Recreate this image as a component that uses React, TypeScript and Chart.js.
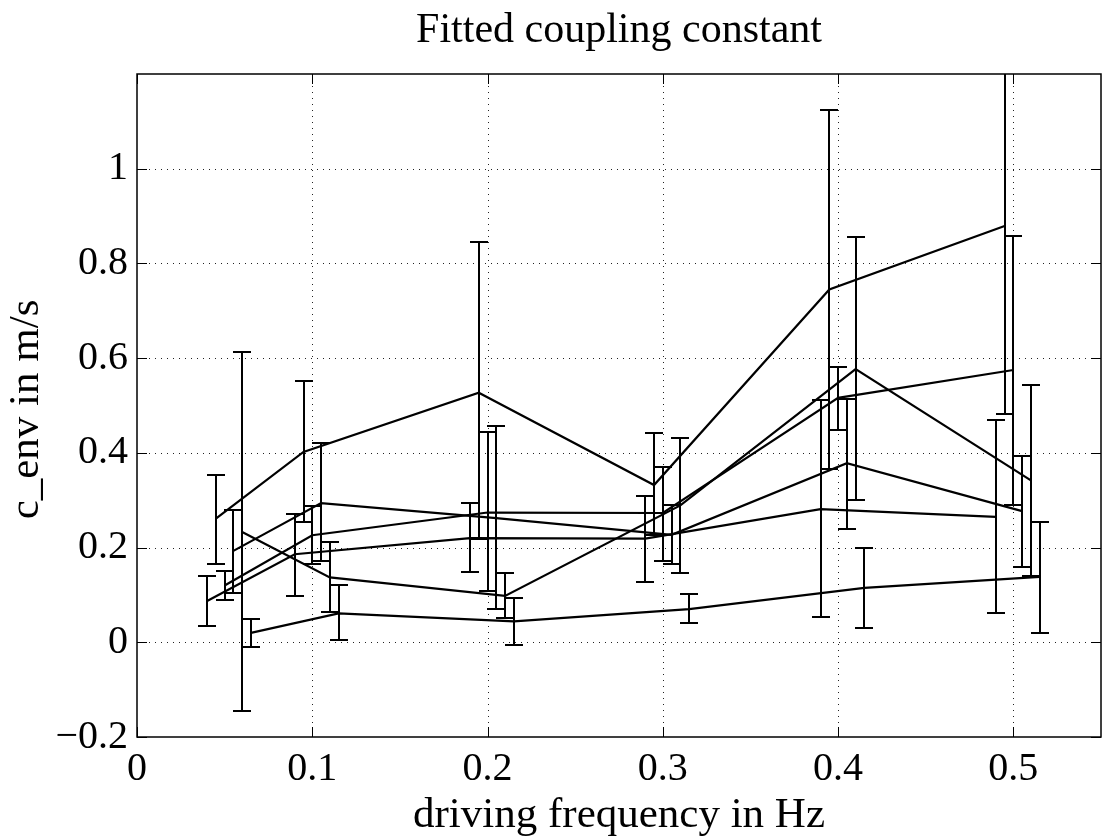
import React, { useEffect, useRef } from 'react';
import { Chart, registerables } from 'chart.js';

Chart.register(...registerables);

// ---------- text ----------
const TITLE = 'Fitted coupling constant';
const X_LABEL = 'driving frequency in Hz';
const Y_LABEL = 'c_env in m/s';

// ---------- axes ----------
const X_MIN = 0;
const X_MAX = 0.55;
const Y_MIN = -0.2;
const Y_MAX = 1.2;
const xTickValues = [0, 0.1, 0.2, 0.3, 0.4, 0.5];
const xTickLabels = ['0', '0.1', '0.2', '0.3', '0.4', '0.5'];
const yTickValues = [-0.2, 0, 0.2, 0.4, 0.6, 0.8, 1.0];
const yTickLabels = ['\u22120.2', '0', '0.2', '0.4', '0.6', '0.8', '1'];

// ---------- data (6 runs, value with lower / upper error bound) ----------
const freq1 = [0.04, 0.09, 0.19, 0.29, 0.39, 0.49];
const value1 = [0.087, 0.186, 0.220, 0.219, 0.281, 0.265];
const low1 = [0.035, 0.097, 0.149, 0.128, 0.054, 0.062];
const high1 = [0.139, 0.270, 0.295, 0.308, 0.512, 0.470];

const freq2 = [0.045, 0.095, 0.195, 0.295, 0.395, 0.495];
const value2 = [0.261, 0.402, 0.527, 0.332, 0.745, 0.879];
const low2 = [0.166, 0.253, 0.218, 0.227, 0.366, 0.483];
const high2 = [0.354, 0.551, 0.845, 0.442, 1.125, 1.275];

const freq3 = [0.05, 0.1, 0.2, 0.3, 0.4, 0.5];
const value3 = [0.120, 0.226, 0.274, 0.273, 0.516, 0.575];
const low3 = [0.089, 0.166, 0.108, 0.172, 0.449, 0.289];
const high3 = [0.150, 0.288, 0.444, 0.370, 0.581, 0.858];

const freq4 = [0.055, 0.105, 0.205, 0.305, 0.405, 0.505];
const value4 = [0.193, 0.294, 0.262, 0.227, 0.378, 0.277];
const low4 = [0.105, 0.172, 0.071, 0.165, 0.240, 0.160];
const high4 = [0.279, 0.420, 0.456, 0.290, 0.513, 0.394];

const freq5 = [0.06, 0.11, 0.21, 0.31, 0.41, 0.51];
const value5 = [0.233, 0.137, 0.098, 0.289, 0.577, 0.342];
const low5 = [-0.146, 0.063, 0.052, 0.146, 0.301, 0.139];
const high5 = [0.612, 0.211, 0.146, 0.431, 0.855, 0.544];

const freq6 = [0.065, 0.115, 0.215, 0.315, 0.415, 0.515];
const value6 = [0.020, 0.061, 0.044, 0.070, 0.115, 0.138];
const low6 = [-0.010, 0.004, -0.006, 0.041, 0.030, 0.020];
const high6 = [0.050, 0.120, 0.093, 0.101, 0.200, 0.254];

const runs = [
  { freq: freq1, value: value1, low: low1, high: high1 },
  { freq: freq2, value: value2, low: low2, high: high2 },
  { freq: freq3, value: value3, low: low3, high: high3 },
  { freq: freq4, value: value4, low: low4, high: high4 },
  { freq: freq5, value: value5, low: low5, high: high5 },
  { freq: freq6, value: value6, low: low6, high: high6 },
];

const FONT = '"Liberation Serif", "Times New Roman", serif';
const TICK_LEN = 10;
const CAP_HALF = 8;

const framePlugin = {
  id: 'matlabFrame',
  beforeDatasetsDraw(chart: any) {
    const { ctx, chartArea: a, scales } = chart;
    const xs = scales.x;
    const ys = scales.y;
    ctx.save();
    ctx.strokeStyle = '#222';
    ctx.lineWidth = 1;
    ctx.setLineDash([1, 5]);
    xTickValues.forEach((v) => {
      if (v <= X_MIN) return;
      const px = Math.round(xs.getPixelForValue(v)) + 0.5;
      ctx.beginPath();
      ctx.moveTo(px, a.top);
      ctx.lineTo(px, a.bottom);
      ctx.stroke();
    });
    yTickValues.forEach((v) => {
      if (v <= Y_MIN) return;
      const py = Math.round(ys.getPixelForValue(v)) + 0.5;
      ctx.beginPath();
      ctx.moveTo(a.left, py);
      ctx.lineTo(a.right, py);
      ctx.stroke();
    });
    ctx.restore();
  },
  afterDatasetsDraw(chart: any) {
    const { ctx, chartArea: a, scales } = chart;
    const xs = scales.x;
    const ys = scales.y;
    ctx.save();
    ctx.beginPath();
    ctx.rect(a.left, a.top, a.right - a.left, a.bottom - a.top);
    ctx.clip();
    ctx.strokeStyle = '#000';
    ctx.lineWidth = 2;
    ctx.lineCap = 'square';
    runs.forEach((r) => {
      r.freq.forEach((f, i) => {
        const px = Math.round(xs.getPixelForValue(f));
        const pl = Math.round(ys.getPixelForValue(r.low[i]));
        const ph = Math.round(ys.getPixelForValue(r.high[i]));
        ctx.beginPath();
        ctx.moveTo(px, pl);
        ctx.lineTo(px, ph);
        ctx.moveTo(px - CAP_HALF, pl);
        ctx.lineTo(px + CAP_HALF, pl);
        ctx.moveTo(px - CAP_HALF, ph);
        ctx.lineTo(px + CAP_HALF, ph);
        ctx.stroke();
      });
    });
    ctx.restore();

    // box and inward ticks
    ctx.save();
    ctx.strokeStyle = '#000';
    ctx.lineWidth = 1.5;
    ctx.strokeRect(a.left, a.top, a.right - a.left, a.bottom - a.top);
    ctx.lineWidth = 1;
    xTickValues.forEach((v) => {
      const px = Math.round(xs.getPixelForValue(v)) + 0.5;
      ctx.beginPath();
      ctx.moveTo(px, a.bottom);
      ctx.lineTo(px, a.bottom - TICK_LEN);
      ctx.moveTo(px, a.top);
      ctx.lineTo(px, a.top + TICK_LEN);
      ctx.stroke();
    });
    yTickValues.forEach((v) => {
      const py = Math.round(ys.getPixelForValue(v)) + 0.5;
      ctx.beginPath();
      ctx.moveTo(a.left, py);
      ctx.lineTo(a.left + TICK_LEN, py);
      ctx.moveTo(a.right, py);
      ctx.lineTo(a.right - TICK_LEN, py);
      ctx.stroke();
    });
    ctx.restore();
  },
  afterDraw(chart: any) {
    const { ctx, chartArea: a } = chart;
    const cx = (a.left + a.right) / 2;
    const cy = (a.top + a.bottom) / 2;
    ctx.save();
    ctx.fillStyle = '#000';
    ctx.textAlign = 'center';
    ctx.textBaseline = 'alphabetic';
    ctx.font = `42px ${FONT}`;
    ctx.fillText(TITLE, cx, 42);
    ctx.font = `43px ${FONT}`;
    ctx.fillText(X_LABEL, cx, 827);
    ctx.translate(38, cy + 4);
    ctx.rotate(-Math.PI / 2);
    ctx.font = `43px ${FONT}`;
    ctx.fillText(Y_LABEL, 0, 0);
    ctx.restore();
  },
};

export default function App() {
  const canvasRef = useRef<HTMLCanvasElement | null>(null);

  useEffect(() => {
    const canvas = canvasRef.current;
    if (!canvas) return;
    const datasets = runs.map((r, k) => ({
      label: `run ${k + 1}`,
      data: r.freq.map((f, i) => ({ x: f, y: r.value[i] })),
      borderColor: '#000',
      backgroundColor: '#000',
      borderWidth: 2.2,
      pointRadius: 0,
      tension: 0,
      fill: false,
    }));
    const chart = new Chart(canvas, {
      type: 'line',
      data: { datasets },
      options: {
        animation: false,
        responsive: false,
        devicePixelRatio: 1,
        layout: { padding: { left: 0, right: 1, top: 74, bottom: 0 } },
        plugins: {
          legend: { display: false },
          title: { display: false },
          tooltip: { enabled: false },
        },
        scales: {
          x: {
            type: 'linear',
            min: X_MIN,
            max: X_MAX,
            grid: { display: false, drawTicks: false },
            border: { display: false },
            afterBuildTicks: (s: any) => {
              s.ticks = xTickValues.map((v) => ({ value: v }));
            },
            afterFit: (s: any) => {
              s.height = 101;
            },
            ticks: {
              autoSkip: false,
              maxRotation: 0,
              padding: 8,
              color: '#000',
              font: { family: FONT, size: 40 },
              callback: (v: any) => {
                const i = xTickValues.findIndex((t) => Math.abs(t - Number(v)) < 1e-9);
                return i >= 0 ? xTickLabels[i] : '';
              },
            },
          },
          y: {
            type: 'linear',
            min: Y_MIN,
            max: Y_MAX,
            grid: { display: false, drawTicks: false },
            border: { display: false },
            afterBuildTicks: (s: any) => {
              s.ticks = yTickValues.map((v) => ({ value: v }));
            },
            afterFit: (s: any) => {
              s.width = 137;
            },
            ticks: {
              autoSkip: false,
              padding: 9,
              color: '#000',
              font: { family: FONT, size: 40 },
              callback: (v: any) => {
                const i = yTickValues.findIndex((t) => Math.abs(t - Number(v)) < 1e-9);
                return i >= 0 ? yTickLabels[i] : '';
              },
            },
          },
        },
      },
      plugins: [framePlugin],
    } as any);
    return () => chart.destroy();
  }, []);

  return (
    <div style={{ position: 'absolute', left: 0, top: 0, width: 1102, height: 838, background: '#fff' }}>
      <canvas ref={canvasRef} width={1102} height={838} style={{ width: 1102, height: 838, display: 'block' }} />
    </div>
  );
}
